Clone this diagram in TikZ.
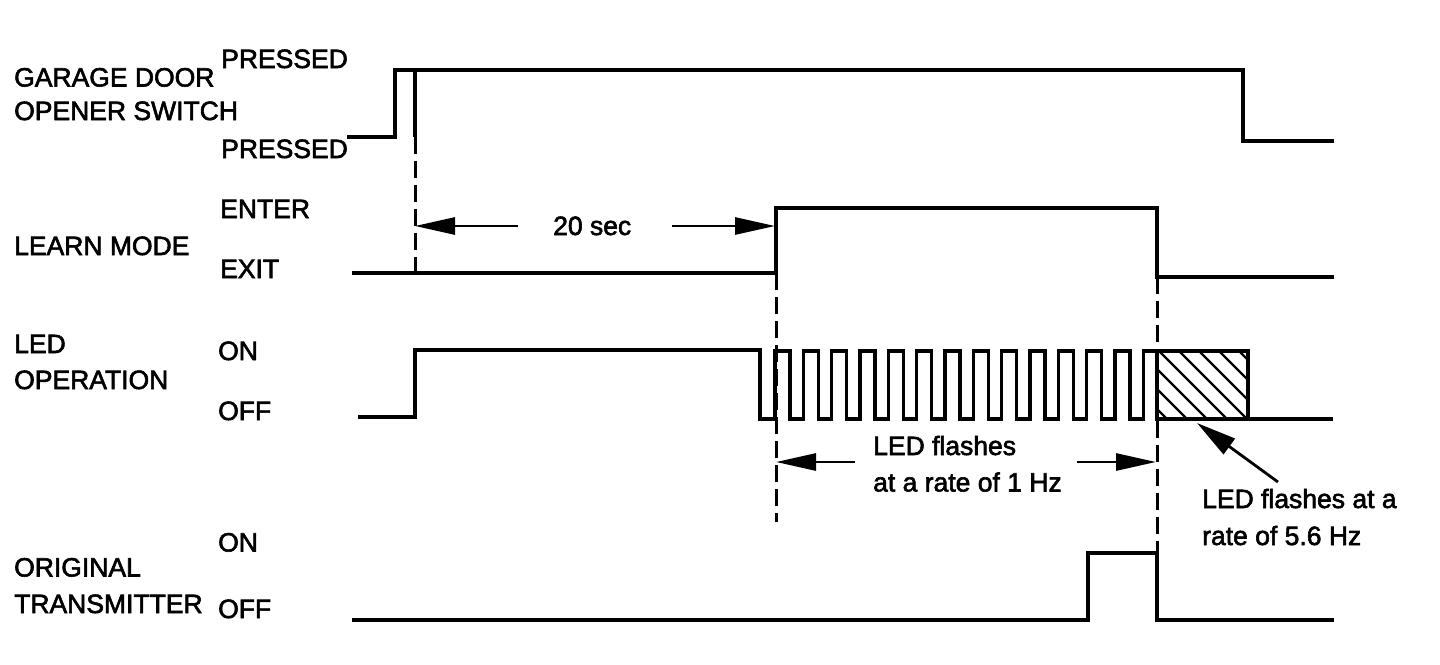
\documentclass[tikz,border=0pt]{standalone}
\usepackage{fontspec}
\setmainfont{Liberation Sans}
\usetikzlibrary{arrows.meta}
\tikzset{
  wave/.style={line width=3.7pt, line join=miter, line cap=butt},
  pulse/.style={line width=3.3pt, line join=miter},
  guide/.style={line width=3pt, dash pattern=on 17pt off 7pt},
  dim/.style={line width=2.8pt, -{Triangle[length=40pt,width=17pt]}},
  hatch/.style={line width=2.2pt},
  lbl/.style={anchor=base west, inner sep=0pt, font=\fontsize{26.5pt}{30pt}\selectfont\addfontfeature{FakeBold=2.2}}
}
\begin{document}
\begin{tikzpicture}[x=1pt,y=-1pt]
\useasboundingbox (0,0) rectangle (1440,664);

% ---- labels ----
\node[lbl] (gd)  at (14,86.5)  {GARAGE DOOR};
\node[lbl] (os)  at (14,120)   {OPENER SWITCH};
\node[lbl] (p1)  at (221,68)   {PRESSED};
\node[lbl] (p2)  at (221,158)  {PRESSED};
\node[lbl] (en)  at (220,218)  {ENTER};
\node[lbl] (lm)  at (14,255)   {LEARN MODE};
\node[lbl] (ex)  at (220,278)  {EXIT};
\node[lbl] (led) at (14,353)   {LED};
\node[lbl] (op)  at (14,389)   {OPERATION};
\node[lbl] (on1) at (218,360)  {ON};
\node[lbl] (of1) at (218,420)  {OFF};
\node[lbl] (on2) at (218,551.5){ON};
\node[lbl] (org) at (14,576.5) {ORIGINAL};
\node[lbl] (tr)  at (14,613)   {TRANSMITTER};
\node[lbl] (of2) at (218,618)  {OFF};
\node[lbl] (t20) at (553,235)  {20 sec};
\node[lbl] (lf1) at (873,455)  {LED flashes};
\node[lbl] (lf2) at (873,491.5){at a rate of 1 Hz};
\node[lbl] (hf1) at (1202,508) {LED flashes at a};
\node[lbl] (hf2) at (1202,545) {rate of 5.6 Hz};

% ---- garage door opener switch ----
\draw[wave] (347,137) -- (395,137) -- (395,70) -- (1243,70) -- (1243,141) -- (1334,141);
\draw[wave] (415,70) -- (415,137);

% ---- learn mode ----
\draw[wave] (352,273) -- (776,273) -- (776,208) -- (1157,208) -- (1157,277) -- (1334,277);

% ---- LED operation ----
\draw[wave] (358,417) -- (415,417) -- (415,350) -- (760,350) -- (760,419) -- (775,419);
\draw[pulse] (775,419)
  \foreach \k in {0,...,12} {
    -- ({775+28.33*\k},419) -- ({775+28.33*\k},351)
    -- ({790+28.33*\k},351) -- ({790+28.33*\k},419) }
  -- (1143.3,419) -- (1143.3,351) -- (1248,351) -- (1248,419);
\draw[wave] (1157,351) -- (1157,419) -- (1333,419);
\begin{scope}
  \clip (1157,351) rectangle (1248,419);
  \foreach \i in {-4,...,5} \draw[hatch] ({1159+20*\i},351) -- ++(80,80);
\end{scope}

% ---- original transmitter ----
\draw[wave] (352,620) -- (1088,620) -- (1088,553) -- (1157,553) -- (1157,620) -- (1334,620);

% ---- guide lines ----
\draw[guide] (415,137) -- (415,273);
\draw[guide] (776,273) -- (776,522);
\draw[guide] (1157,277) -- (1157,622);

% ---- dimension arrows ----
\coordinate (a1t) at (415,226);  \coordinate (a1s) at (518,226);
\coordinate (a2s) at (672,226);  \coordinate (a2t) at (775,226);
\draw[dim] (a1s) -- (a1t);
\draw[dim] (a2s) -- (a2t);
\coordinate (b1t) at (776,462);  \coordinate (b1s) at (855,462);
\coordinate (b2s) at (1077,462); \coordinate (b2t) at (1156,462);
\draw[dim] (b1s) -- (b1t);
\draw[dim] (b2s) -- (b2t);
\coordinate (c1s) at (1278,482); \coordinate (c1t) at (1197,423);
\draw[line width=2.8pt, -{Triangle[length=40pt,width=19pt]}] (c1s) -- (c1t);
\end{tikzpicture}
\end{document}
